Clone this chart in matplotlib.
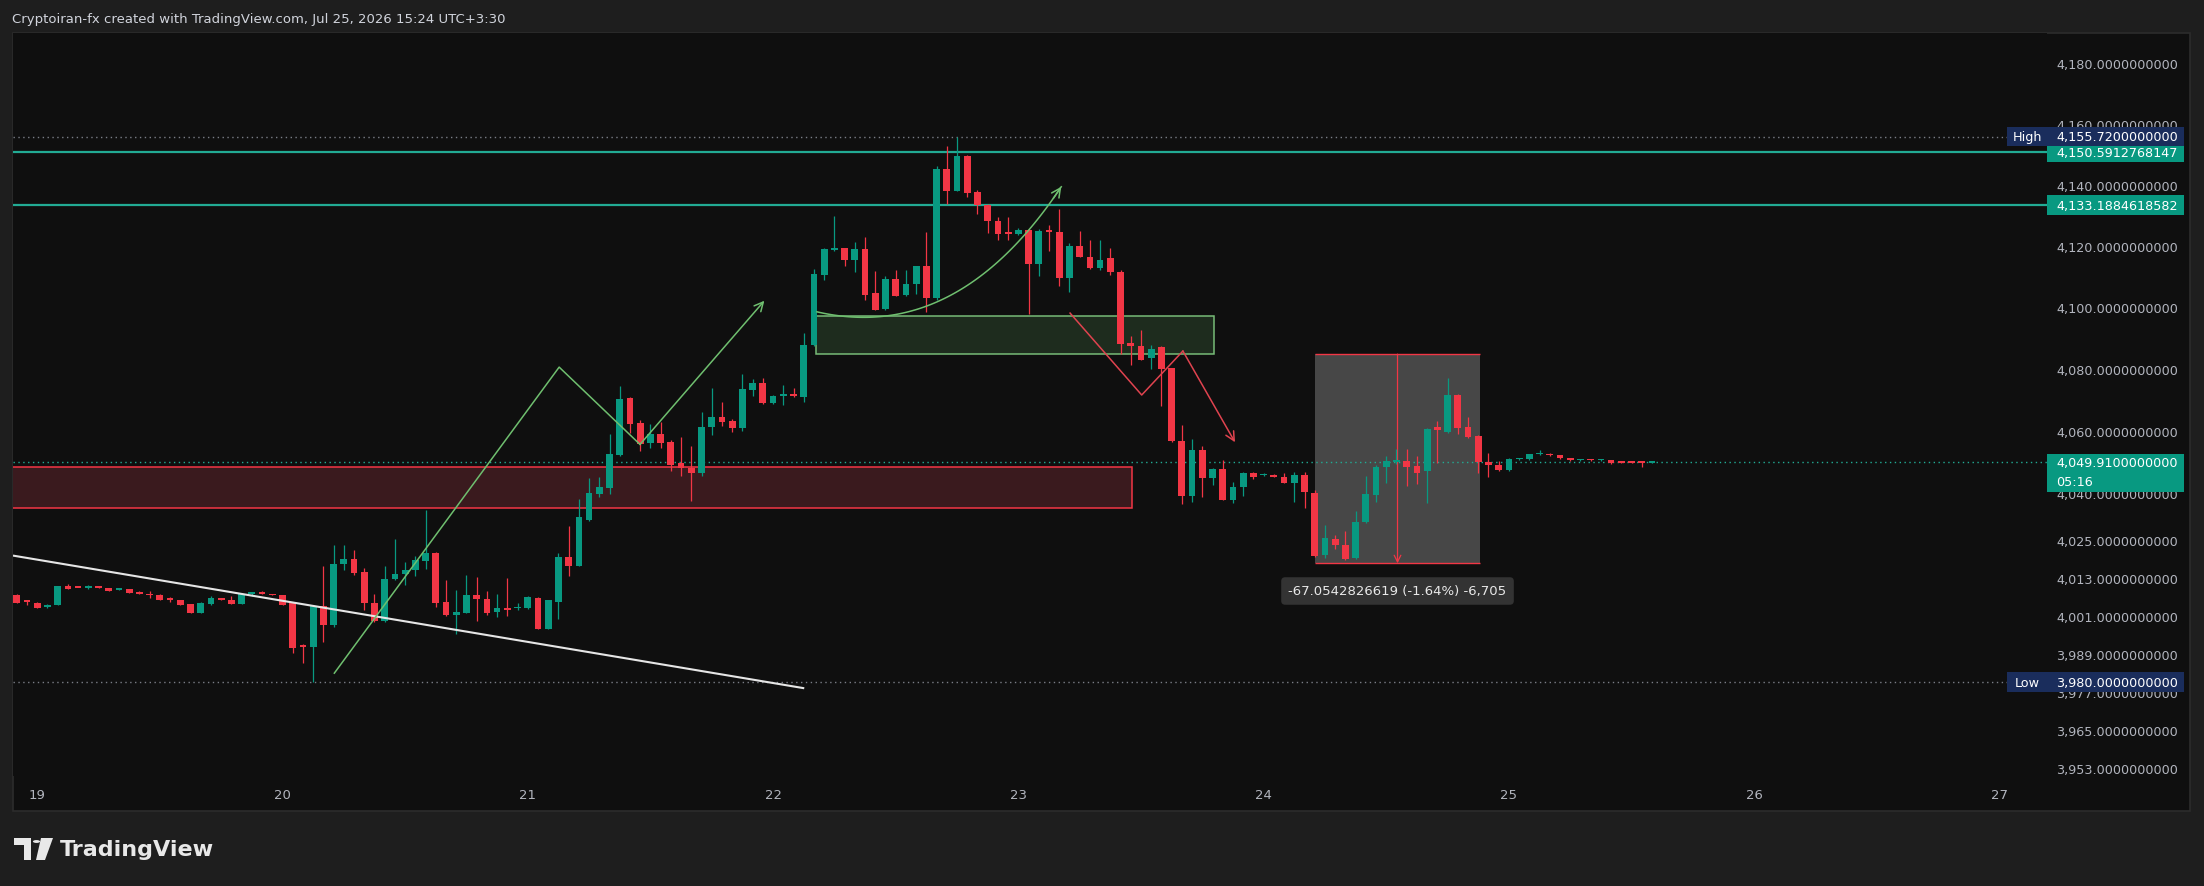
import numpy as np
import matplotlib.pyplot as plt
from matplotlib.patches import Rectangle, Polygon, Circle
from matplotlib.ticker import NullLocator

# hourly candles, hour 0 = Jul 19 00:00
first_hour = -2
opens = [4007.7, 4005.6, 4005.1, 4003.7, 4004.6, 4010.6, 4009.9, 4009.7, 4010.5, 4009.9,
         4009.2, 4009.4, 4008.7, 4008.0, 4007.7, 4006.2, 4006.1, 4004.7, 4002.0, 4004.8,
         4006.7, 4006.1, 4004.8, 4008.0, 4008.3, 4008.0, 4007.6, 4005.0, 3991.6, 3991.3,
         4004.2, 3998.1, 4017.4, 4019.1, 4014.8, 4005.2, 3999.5, 4012.6, 4014.2, 4015.6,
         4018.5, 4021.1, 4005.5, 4001.2, 4002.0, 4007.6, 4006.5, 4002.1, 4003.6, 4003.4,
         4003.4, 4006.8, 3997.0, 4005.5, 4019.8, 4017.0, 4031.5, 4039.8, 4041.6, 4052.3,
         4070.5, 4062.5, 4056.1, 4059.0, 4056.6, 4049.7, 4048.2, 4046.5, 4061.2, 4064.4,
         4063.1, 4060.9, 4073.3, 4075.4, 4068.9, 4071.2, 4071.8, 4071.0, 4087.9, 4110.5,
         4118.6, 4119.2, 4115.2, 4119.0, 4104.5, 4099.3, 4109.1, 4104.0, 4107.5, 4113.3,
         4102.9, 4145.0, 4138.0, 4149.4, 4137.7, 4133.4, 4128.2, 4124.2, 4123.8, 4125.2,
         4114.0, 4124.9, 4124.4, 4109.5, 4120.0, 4116.4, 4112.9, 4116.0, 4111.6, 4088.4,
         4087.4, 4083.4, 4087.0, 4080.2, 4056.9, 4039.3, 4053.8, 4044.9, 4047.9, 4038.0,
         4042.0, 4046.5, 4045.8, 4046.0, 4045.4, 4043.3, 4045.8, 4040.2, 4020.2, 4025.5,
         4023.6, 4019.3, 4030.9, 4039.6, 4048.3, 4050.0, 4050.3, 4048.7, 4047.1, 4061.2,
         4059.8, 4071.7, 4061.2, 4058.4, 4050.0, 4049.1, 4047.4, 4050.9, 4050.9, 4052.5,
         4052.7, 4052.3, 4051.4, 4050.6, 4050.8, 4050.6, 4050.7, 4049.9, 4049.9, 4049.9,
         4049.7]
highs = [4007.9, 4006.2, 4005.3, 4004.9, 4010.4, 4011.1, 4010.0, 4010.9, 4010.6, 4010.0,
         4009.4, 4009.5, 4008.8, 4009.0, 4007.8, 4006.9, 4006.2, 4004.8, 4005.3, 4007.4,
         4006.8, 4007.3, 4008.2, 4008.7, 4008.8, 4008.1, 4007.7, 4005.3, 3992.2, 4004.5,
         4016.9, 4023.6, 4023.4, 4022.0, 4016.3, 4008.0, 4016.9, 4025.5, 4018.0, 4019.9,
         4034.7, 4021.3, 4012.4, 4009.2, 4013.9, 4013.2, 4009.0, 4008.0, 4012.9, 4005.0,
         4007.3, 4007.0, 4006.2, 4020.9, 4029.6, 4038.2, 4045.0, 4045.1, 4059.0, 4074.6,
         4071.0, 4063.5, 4062.2, 4062.8, 4057.0, 4058.1, 4055.3, 4066.0, 4073.8, 4069.2,
         4064.0, 4078.4, 4076.8, 4077.0, 4071.5, 4074.9, 4073.8, 4091.7, 4112.4, 4119.3,
         4129.7, 4119.4, 4121.2, 4122.8, 4111.8, 4110.2, 4112.1, 4112.1, 4113.5, 4124.4,
         4146.0, 4152.7, 4155.72, 4149.6, 4138.2, 4133.6, 4129.5, 4129.3, 4125.8, 4125.5,
         4125.5, 4126.8, 4132.0, 4120.8, 4124.7, 4121.9, 4121.9, 4119.3, 4112.1, 4090.6,
         4092.5, 4087.9, 4087.4, 4080.4, 4062.0, 4057.4, 4055.1, 4048.0, 4050.8, 4043.6,
         4046.8, 4046.8, 4046.4, 4046.2, 4046.5, 4047.0, 4047.0, 4041.0, 4029.9, 4026.8,
         4028.1, 4034.4, 4045.6, 4049.0, 4052.1, 4054.2, 4054.2, 4052.1, 4061.0, 4063.1,
         4077.1, 4072.0, 4064.4, 4058.6, 4053.1, 4050.4, 4051.2, 4051.3, 4052.7, 4053.9,
         4052.8, 4052.4, 4051.5, 4050.9, 4050.9, 4050.9, 4050.8, 4050.0, 4050.0, 4050.0,
         4050.0]
lows = [4005.1, 4004.5, 4003.5, 4003.5, 4004.5, 4009.6, 4009.7, 4009.6, 4009.7, 4009.0,
        4009.1, 4008.4, 4007.8, 4006.6, 4005.9, 4005.4, 4004.6, 4001.8, 4001.9, 4004.6,
        4005.9, 4004.7, 4004.7, 4007.3, 4007.9, 4007.5, 4004.6, 3989.4, 3986.1, 3980.0,
        3992.8, 3997.5, 4015.6, 4014.0, 4002.9, 3999.0, 3999.0, 4012.3, 4010.8, 4013.8,
        4015.8, 4003.9, 4001.0, 3995.2, 4001.8, 3999.4, 4001.4, 4000.7, 4001.0, 4002.9,
        4003.3, 3996.8, 3996.9, 3999.9, 4013.7, 4016.8, 4031.3, 4038.7, 4039.8, 4052.0,
        4059.5, 4053.7, 4054.7, 4054.7, 4047.3, 4045.5, 4037.7, 4045.5, 4058.6, 4061.5,
        4059.6, 4059.9, 4071.4, 4068.7, 4068.7, 4068.5, 4071.0, 4069.2, 4087.5, 4108.7,
        4118.3, 4113.3, 4111.6, 4102.5, 4099.0, 4099.0, 4103.5, 4103.7, 4104.2, 4098.3,
        4102.5, 4133.6, 4137.8, 4135.8, 4130.4, 4124.2, 4122.0, 4122.0, 4123.6, 4097.9,
        4110.2, 4118.4, 4107.0, 4105.1, 4116.2, 4112.4, 4112.2, 4110.6, 4084.7, 4081.2,
        4082.8, 4080.1, 4068.1, 4056.5, 4036.7, 4037.1, 4039.0, 4042.8, 4037.8, 4036.9,
        4039.3, 4044.6, 4045.5, 4045.1, 4043.2, 4037.4, 4035.3, 4019.7, 4019.5, 4022.3,
        4018.6, 4019.0, 4030.5, 4037.2, 4043.3, 4049.5, 4042.5, 4043.0, 4036.9, 4049.6,
        4059.5, 4059.0, 4057.8, 4046.4, 4045.3, 4047.1, 4047.3, 4050.8, 4050.8, 4052.4,
        4052.1, 4051.1, 4050.5, 4050.5, 4050.5, 4050.5, 4049.5, 4049.7, 4049.6, 4048.5,
        4049.6]
closes = [4005.1, 4005.5, 4003.5, 4004.6, 4010.4, 4009.6, 4009.8, 4010.5, 4009.7, 4009.0,
          4009.3, 4008.4, 4007.8, 4007.5, 4005.9, 4006.0, 4004.6, 4002.0, 4005.1, 4006.8,
          4005.9, 4004.7, 4008.1, 4008.2, 4008.1, 4007.5, 4004.6, 3991.0, 3991.2, 4004.2,
          3998.1, 4017.5, 4019.1, 4014.5, 4005.0, 3999.5, 4012.8, 4014.3, 4015.6, 4018.6,
          4020.9, 4005.2, 4001.2, 4002.2, 4007.6, 4006.3, 4001.8, 4003.6, 4002.9, 4003.6,
          4007.1, 3997.0, 4006.0, 4019.8, 4017.0, 4032.3, 4040.0, 4041.9, 4052.6, 4070.3,
          4062.2, 4055.8, 4059.0, 4056.1, 4049.2, 4048.0, 4046.5, 4061.3, 4064.4, 4063.0,
          4060.9, 4073.5, 4075.4, 4068.9, 4071.2, 4071.8, 4071.2, 4087.9, 4110.8, 4119.0,
          4119.3, 4115.2, 4119.0, 4104.0, 4099.2, 4109.1, 4103.7, 4107.5, 4113.3, 4102.9,
          4145.0, 4138.0, 4149.4, 4137.4, 4133.4, 4128.2, 4123.8, 4123.8, 4125.2, 4114.0,
          4124.7, 4124.5, 4109.5, 4120.0, 4116.4, 4112.9, 4115.4, 4111.5, 4088.1, 4087.3,
          4083.0, 4086.6, 4080.0, 4056.7, 4039.3, 4053.8, 4044.9, 4047.9, 4038.0, 4042.2,
          4046.5, 4045.2, 4045.9, 4045.2, 4043.3, 4045.8, 4040.4, 4020.0, 4025.7, 4023.4,
          4019.0, 4031.0, 4039.8, 4048.6, 4050.3, 4050.3, 4048.6, 4046.6, 4060.8, 4060.2,
          4071.7, 4060.9, 4058.0, 4050.0, 4049.1, 4047.4, 4051.0, 4051.2, 4052.6, 4052.8,
          4052.2, 4051.2, 4050.6, 4050.8, 4050.6, 4050.8, 4049.6, 4049.8, 4049.7, 4049.7,
          4049.91]

day_labels = ['19', '20', '21', '22', '23', '24', '25', '26', '27']
price_ticks = [4180, 4160, 4140, 4120, 4100, 4080, 4060, 4040, 4025, 4013, 4001,
               3989, 3977, 3965, 3953]

level_upper = 4150.5912768147
level_lower = 4133.1884618582
session_high = 4155.72
session_low = 3980.0
last_price = 4049.91
countdown = '05:16'

# drawings, in (hour, price)
supply_zone = [76.2, 115.1, 4085.0, 4097.3]
demand_zone = [-3.0, 107.1, 4035.2, 4048.6]
trend_hours = [-2.27, 74.95]
trend_prices = [4020.1, 3978.2]
zigzag_hours = [29.07, 51.07, 58.98, 71.15]
zigzag_prices = [3982.9, 4080.6, 4055.7, 4102.1]
curve_hours = [76.3, 90.0, 100.2]
curve_prices = [4098.5, 4088.0, 4139.3]
drop_hours = [101.06, 108.07, 112.1, 117.2]
drop_prices = [4098.1, 4071.6, 4085.8, 4056.4]
range_hours = [125.0, 141.2]
range_prices = [4017.7, 4084.8]
range_text = '-67.0542826619 (-1.64%) -6,705'
range_label_price = 4008.9

GREEN = '#089981'
RED = '#f23645'
TEAL = '#22ab94'
NAVY = '#1a2d5c'
BG = '#0f0f0f'
OUTER = '#1e1e1e'
TXT = '#b2b5be'

W, H = 2204, 887
fig = plt.figure(figsize=(W / 100, H / 100), dpi=100, facecolor=OUTER)
fig.add_artist(Rectangle((13 / W, 1 - 812 / H), 2177 / W, 778 / H, transform=fig.transFigure,
                         facecolor=BG, edgecolor='#2c2c2c', lw=1.2, zorder=0))
ax = fig.add_axes([13 / W, 1 - 777 / H, 2034 / W, 743 / H])
ax.set_facecolor(BG)
for s in ax.spines.values():
    s.set_visible(False)

ax.set_yscale('log')
ymin, ymax = 3950.6, 4190.0
ax.set_ylim(ymin, ymax)
ax.set_xlim(-2.37, 196.65)
k = 743 / np.log(ymax / ymin)   # px per log unit

hours = np.arange(first_hour, first_hour + len(opens))
o, hi, lo, c = map(np.array, (opens, highs, lows, closes))
col = np.where(c >= o, GREEN, RED)

# zones and measuring box (under the candles)
x0, x1, p0, p1 = supply_zone
ax.add_patch(Rectangle((x0, p0), x1 - x0, p1 - p0, facecolor='#1f2e1f', edgecolor='#7cc47c',
                       lw=1.1, alpha=0.95, zorder=1))
x0, x1, p0, p1 = demand_zone
ax.add_patch(Rectangle((x0, p0), x1 - x0, p1 - p0, facecolor='#3a1a1e', edgecolor=RED,
                       lw=1.1, zorder=1))
ax.add_patch(Rectangle((range_hours[0], range_prices[0]), range_hours[1] - range_hours[0],
                       range_prices[1] - range_prices[0], facecolor='#474747', edgecolor='none',
                       zorder=1))
ax.hlines(range_prices, range_hours[0], range_hours[1], colors=RED, lw=1.0, zorder=2)
mid = sum(range_hours) / 2
ax.annotate('', xy=(mid, range_prices[0]), xytext=(mid, range_prices[1]),
            arrowprops=dict(arrowstyle='->', color=RED, lw=0.9, shrinkA=0, shrinkB=0,
                            mutation_scale=12), zorder=2)

# horizontal levels
ax.axhline(session_high, color='#7a7d86', lw=1, ls=(0, (1, 2.5)), zorder=2)
ax.axhline(session_low, color='#7a7d86', lw=1, ls=(0, (1, 2.5)), zorder=2)
ax.axhline(last_price, color=TEAL, lw=1, ls=(0, (1, 2.5)), zorder=2)
ax.axhline(level_upper, color=TEAL, lw=1.6, zorder=2)
ax.axhline(level_lower, color=TEAL, lw=1.6, zorder=2)

# candles
ax.vlines(hours, lo, hi, colors=col, lw=0.9, zorder=3)
ax.bar(hours, np.maximum(np.abs(c - o), 0.55), bottom=np.minimum(o, c), width=0.66,
       color=col, linewidth=0, zorder=4)

# trend line and drawings
ax.plot(trend_hours, trend_prices, color='#e6e6e6', lw=1.5, zorder=5)
lg = '#6fbf6f'
ax.plot(zigzag_hours[:3], zigzag_prices[:3], color=lg, lw=1.1, zorder=5)
ax.annotate('', xy=(zigzag_hours[3], zigzag_prices[3]), xytext=(zigzag_hours[2], zigzag_prices[2]),
            arrowprops=dict(arrowstyle='->', color=lg, lw=1.1, shrinkA=0, shrinkB=0,
                            mutation_scale=16), zorder=5)
t = np.linspace(0, 1, 80)[:, None]
P = np.array([curve_hours, curve_prices]).T
bz = (1 - t) ** 2 * P[0] + 2 * t * (1 - t) * P[1] + t ** 2 * P[2]
ax.plot(bz[:, 0], bz[:, 1], color=lg, lw=1.1, zorder=5)
ax.annotate('', xy=bz[-1], xytext=bz[-4],
            arrowprops=dict(arrowstyle='->', color=lg, lw=1.1, shrinkA=0, shrinkB=0,
                            mutation_scale=16), zorder=5)
rd = '#e0434f'
ax.plot(drop_hours[:3], drop_prices[:3], color=rd, lw=1.1, zorder=5)
ax.annotate('', xy=(drop_hours[3], drop_prices[3]), xytext=(drop_hours[2], drop_prices[2]),
            arrowprops=dict(arrowstyle='->', color=rd, lw=1.1, shrinkA=0, shrinkB=0,
                            mutation_scale=16), zorder=5)

ax.text(mid, range_label_price, range_text, color='#e8e8e8', fontsize=9.5, ha='center',
        va='center', zorder=6,
        bbox=dict(boxstyle='round,pad=0.55,rounding_size=0.3', fc='#333333', ec='none'))

# axes ticks
ax.set_xticks(np.arange(len(day_labels)) * 24)
ax.set_xticklabels(day_labels)
ax.yaxis.tick_right()
ax.set_yticks(price_ticks)
ax.set_yticklabels([f'{v:,.10f}' for v in price_ticks])
ax.yaxis.set_minor_locator(NullLocator())
ax.tick_params(axis='x', length=0, pad=9, labelsize=9.5, labelcolor=TXT)
ax.tick_params(axis='y', length=0, pad=6.5, labelsize=9.2, labelcolor=TXT)

# price tags on the scale
tr = ax.get_yaxis_transform()
bx0, bx1 = 1.0, 1.0 + 137 / 2034


def tag(price, text, fc, up=9.4, down=9.4, sub=None, xa=bx0, xb=bx1, center=False):
    lo_p = price * np.exp(-down / k)
    hi_p = price * np.exp(up / k)
    ax.add_patch(Rectangle((xa, lo_p), xb - xa, hi_p - lo_p, transform=tr, facecolor=fc,
                           edgecolor='none', clip_on=False, zorder=10))
    xt = (xa + xb) / 2 if center else xa + 9 / 2034
    ax.text(xt, price, text, transform=tr, color='white', fontsize=9.2, va='center',
            ha='center' if center else 'left', zorder=11, clip_on=False)
    if sub:
        ax.text(xt, price * np.exp(-19 / k), sub, transform=tr, color='white', fontsize=9.2,
                va='center', ha='left', zorder=11, clip_on=False)


tag(level_upper, f'{level_upper:,.10f}', GREEN)
tag(level_lower, f'{level_lower:,.10f}', GREEN, up=10, down=10)
tag(session_high, f'{session_high:,.10f}', NAVY)
tag(session_high, 'High', NAVY, xa=1 - 40 / 2034, xb=1.0, center=True)
tag(session_low, f'{session_low:,.10f}', NAVY, up=10, down=10)
tag(session_low, 'Low', NAVY, up=10, down=10, xa=1 - 40 / 2034, xb=1.0, center=True)
tag(last_price, f'{last_price:,.10f}', GREEN, up=8.5, down=30, sub=countdown)

# header and footer
fig.text(12.5 / W, 1 - 20 / H, 'Cryptoiran-fx created with TradingView.com, Jul 25, 2026 15:24 UTC+3:30',
         color='#d1d4dc', fontsize=9.5, va='center', ha='left')


def fx(x):
    return x / W


def fy(y):
    return 1 - y / H


logo_c = '#e8e8e8'
fig.add_artist(Polygon([(fx(14), fy(839)), (fx(31), fy(839)), (fx(31), fy(861)), (fx(24), fy(861)),
                        (fx(24), fy(846)), (fx(14), fy(846))], closed=True, transform=fig.transFigure,
                       facecolor=logo_c, edgecolor='none'))
fig.add_artist(Circle((fx(36.5), fy(842.5)), 3.6 / W, transform=fig.transFigure,
                      facecolor=logo_c, edgecolor='none'))
fig.add_artist(Polygon([(fx(41), fy(839)), (fx(53), fy(839)), (fx(45), fy(861)), (fx(36), fy(861))],
                       closed=True, transform=fig.transFigure, facecolor=logo_c, edgecolor='none'))
fig.text(fx(60), fy(850), 'TradingView', color=logo_c, fontsize=16, fontweight='bold',
         va='center', ha='left')

fig.savefig('out.png', dpi=100, facecolor=OUTER)
